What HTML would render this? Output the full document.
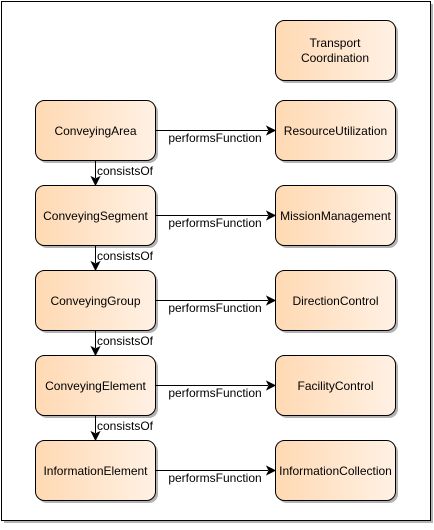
<!DOCTYPE html>
<html><head><style>
body{margin:0;width:434px;height:525px;background:#fff;overflow:hidden;}
</style></head><body>
<svg width="434" height="525" xmlns="http://www.w3.org/2000/svg" font-family="Liberation Sans, sans-serif" font-size="12">
<defs>
<linearGradient id="g" x1="0" x2="1" y1="0" y2="0"><stop offset="0" stop-color="#ffd9b3"/><stop offset="1" stop-color="#fff1e4"/></linearGradient>
<g id="pair">
<rect x="38" y="3" width="120" height="60" rx="9" fill="#b3b3b3"/>
<rect x="278" y="3" width="120" height="60" rx="9" fill="#b3b3b3"/>
<rect x="35.5" y="0.5" width="120" height="60" rx="9" fill="url(#g)" stroke="#000"/>
<rect x="275.5" y="0.5" width="120" height="60" rx="9" fill="url(#g)" stroke="#000"/>
<line x1="156" y1="30.5" x2="268" y2="30.5" stroke="#000"/>
<path d="M275 30.5 L267 26.5 L269 30.5 L267 34.5Z" fill="#000" stroke="#000"/>
<text x="215" y="42" text-anchor="middle">performsFunction</text>
</g>
<g id="down">
<line x1="95.5" y1="61" x2="95.5" y2="78" stroke="#000"/>
<path d="M95.5 85 L91.5 77 L95.5 79 L99.5 77Z" fill="#000" stroke="#000"/>
<text x="97" y="75">consistsOf</text>
</g>
</defs>
<rect x="4" y="4" width="429" height="519" fill="#b3b3b3"/>
<rect x="1.5" y="1.5" width="429" height="519" fill="#fff" stroke="#000"/>
<rect x="278" y="23" width="120" height="60" rx="9" fill="#b3b3b3"/>
<rect x="275.5" y="20.5" width="120" height="60" rx="9" fill="url(#g)" stroke="#000"/>
<text x="335" y="47" text-anchor="middle">Transport</text>
<text x="335" y="62" text-anchor="middle">Coordination</text>

<use href="#pair" y="100"/><use href="#down" y="100"/>
<use href="#pair" y="185"/><use href="#down" y="185"/>
<use href="#pair" y="270"/><use href="#down" y="270"/>
<use href="#pair" y="355"/><use href="#down" y="355"/>
<use href="#pair" y="440"/>

<g text-anchor="middle">
<text x="95.5" y="135">ConveyingArea</text>
<text x="335.5" y="135">ResourceUtilization</text>
<text x="95.5" y="220">ConveyingSegment</text>
<text x="335.5" y="220">MissionManagement</text>
<text x="95.5" y="305">ConveyingGroup</text>
<text x="335.5" y="305">DirectionControl</text>
<text x="95.5" y="390">ConveyingElement</text>
<text x="335.5" y="390">FacilityControl</text>
<text x="95.5" y="475">InformationElement</text>
<text x="335.5" y="475">InformationCollection</text>
</g>
</svg>
</body></html>
